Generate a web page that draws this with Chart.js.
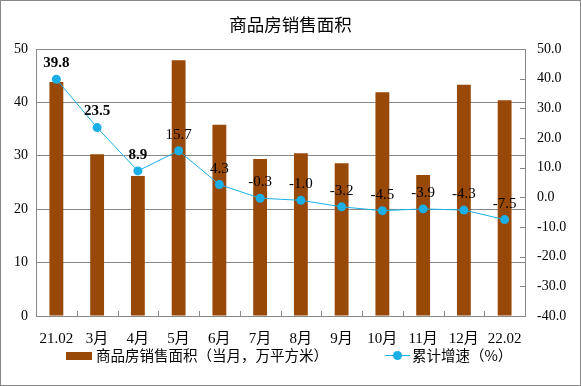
<!DOCTYPE html>
<html>
<head>
<meta charset="utf-8">
<script src="https://cdn.jsdelivr.net/npm/chart.js@4.4.0/dist/chart.umd.min.js"></script>
<style>
  body { margin: 0; background: #fff; }
  #wrap { position: relative; width: 581px; height: 386px; font-family: "Liberation Serif", "Noto Sans CJK SC", serif; }
  #title { position: absolute; left: 0; width: 581px; top: 11px; text-align: center; font-size: 17.5px; font-family: "Noto Sans CJK SC", sans-serif; color: #000; }
  .leg { position: absolute; top: 345px; font-size: 14.5px; font-family: "Noto Sans CJK SC", sans-serif; color: #000; line-height: 20px; }
  .box { position: absolute; left: 66px; top: 352px; width: 26px; height: 8px; background: #984807; }
  .ln { position: absolute; left: 385px; top: 355px; width: 25px; height: 1px; background: #1AAFE6; }
  .dot { position: absolute; left: 393px; top: 351px; width: 9px; height: 9px; border-radius: 50%; background: #1AAFE6; }
</style>
</head>
<body>
<div id="wrap">
  <canvas id="line-chart1" width="581" height="386"></canvas>
  <div id="title">商品房销售面积</div>
  <div class="box"></div>
  <div class="leg" style="left:96px">商品房销售面积（当月，万平方米）</div>
  <div class="ln"></div><div class="dot"></div>
  <div class="leg" style="left:412px">累计增速（%）</div>
</div>
<script>
var labels = ['21.02', '3月', '4月', '5月', '6月', '7月', '8月', '9月', '10月', '11月', '12月', '22.02'];
var area = [43.8, 30.3, 26.2, 47.9, 35.8, 29.4, 30.5, 28.6, 41.9, 26.4, 43.3, 40.4];
var growth = [39.8, 23.5, 8.9, 15.7, 4.3, -0.3, -1.0, -3.2, -4.5, -3.9, -4.3, -7.5];

var serif = "'Liberation Serif', 'Noto Sans CJK SC', serif";

// frame, tick marks and point labels
var extras = {
  id: 'extras',
  afterDraw: function(chart) {
    var ctx = chart.ctx, a = chart.chartArea;
    ctx.save();
    ctx.strokeStyle = '#888';
    ctx.lineWidth = 1;
    ctx.strokeRect(Math.round(a.left) + 0.5, Math.round(a.top) + 0.5, Math.round(a.right - a.left), Math.round(a.bottom - a.top));
    ctx.strokeRect(0.5, 0.5, 580, 385);
    var step = (a.right - a.left) / labels.length;
    ctx.beginPath();
    for (var i = 1; i < labels.length; i++) {
      var px = Math.round(a.left + i * step) + 0.5;
      ctx.moveTo(px, a.bottom); ctx.lineTo(px, a.bottom - 5);
    }
    var y2 = chart.scales.y2;
    y2.ticks.forEach(function(t) {
      var py = Math.round(y2.getPixelForValue(t.value)) + 0.5;
      ctx.moveTo(a.right, py); ctx.lineTo(a.right - 5, py);
    });
    ctx.stroke();

    // labels above the growth points (first three are bold in the original)
    var meta = chart.getDatasetMeta(0);
    ctx.fillStyle = '#000';
    ctx.textAlign = 'center';
    ctx.textBaseline = 'middle';
    meta.data.forEach(function(pt, i) {
      ctx.font = (i < 3 ? "bold " : "") + "15px " + serif;
      ctx.fillText(growth[i].toFixed(1), pt.x, pt.y - 16);
    });
    ctx.restore();
  }
};

new Chart(document.getElementById('line-chart1'), {
  type: 'bar',
  data: {
    labels: labels,
    datasets: [{
      type: 'line',
      label: '累计增速（%）',
      data: growth,
      yAxisID: 'y2',
      borderColor: '#1AAFE6',
      backgroundColor: '#1AAFE6',
      borderWidth: 1,
      pointRadius: 4.5,
      pointBorderWidth: 0,
      fill: false,
      order: 0
    }, {
      label: '商品房销售面积（当月，万平方米）',
      data: area,
      yAxisID: 'y',
      backgroundColor: '#984807',
      barPercentage: 0.34,
      categoryPercentage: 1,
      order: 1
    }]
  },
  options: {
    responsive: false,
    animation: false,
    layout: { padding: { top: 49, left: 0, right: 0, bottom: 40 } },
    plugins: { legend: { display: false }, title: { display: false }, tooltip: { enabled: false } },
    scales: {
      x: {
        grid: { display: false },
        border: { display: false },
        ticks: { color: '#000', font: { family: serif, size: 15 }, padding: 6, maxRotation: 0 },
        afterFit: function(s) { s.height = 30; }
      },
      y: {
        position: 'left',
        min: 0, max: 50,
        ticks: { stepSize: 10, color: '#000', font: { family: serif, size: 14 }, padding: 8 },
        grid: { color: '#888', drawTicks: false },
        border: { display: false },
        afterFit: function(s) { s.width = 36; }
      },
      y2: {
        position: 'right',
        min: -40, max: 50,
        ticks: { stepSize: 10, color: '#000', font: { family: serif, size: 14 }, padding: 12,
          callback: function(v) { return v.toFixed(1); } },
        grid: { display: false, drawTicks: false },
        border: { display: false },
        afterFit: function(s) { s.width = 56; }
      }
    }
  },
  plugins: [extras]
});
</script>
</body>
</html>
